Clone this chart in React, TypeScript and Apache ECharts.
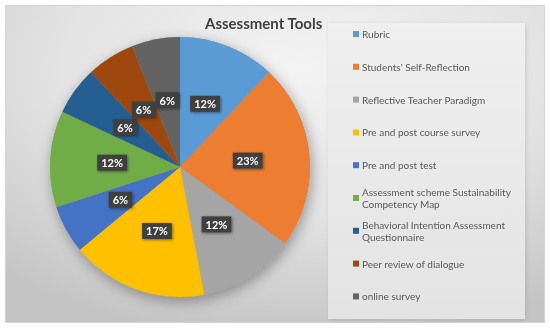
import React, { useEffect, useRef } from 'react';
import * as echarts from 'echarts';

const categories = [
  'Rubric',
  "Students' Self-Reflection",
  'Reflective Teacher Paradigm',
  'Pre and post course survey',
  'Pre and post test',
  'Assessment scheme Sustainability Competency Map',
  'Behavioral Intention Assessment Questionnaire',
  'Peer review of dialogue',
  'online survey',
];
const percentages = [12, 23, 12, 17, 6, 12, 6, 6, 6];
const colors = ['#5B9BD5', '#ED7D31', '#A5A5A5', '#FFC000', '#4472C4', '#70AD47', '#255E91', '#9E480E', '#636363'];
const titleText = 'Assessment Tools';

const LEGEND_LINE = 12.5;
const MAX_CHARS = 32;
const FONT = 'Lato, "Liberation Sans", sans-serif';

function wrap(name: string): string {
  const words = name.split(' ');
  const lines: string[] = [];
  let cur = '';
  for (const w of words) {
    const next = cur ? cur + ' ' + w : w;
    if (next.length > MAX_CHARS && cur) {
      lines.push(cur);
      cur = w;
    } else {
      cur = next;
    }
  }
  if (cur) lines.push(cur);
  return lines.join('\n');
}

export default function App() {
  const ref = useRef<HTMLDivElement>(null);
  useEffect(() => {
    if (!ref.current) return;
    const chart = echarts.init(ref.current, undefined, { renderer: 'svg' });
    const legends = categories.map((name, i) => {
      const y = 34 + 32.8 * i;
      const nLines = wrap(name).split('\n').length;
      const extra = (nLines - 1) * LEGEND_LINE;
      return {
        data: [name],
        orient: 'vertical',
        left: 353,
        top: y - LEGEND_LINE / 2 - extra,
        padding: 0,
        icon: 'rect',
        itemWidth: 6,
        itemHeight: 6,
        itemGap: 0,
        selectedMode: false,
        formatter: (n: string) => wrap(n),
        textStyle: {
          fontFamily: FONT,
          fontSize: 10,
          color: '#595959',
          lineHeight: LEGEND_LINE,
          padding: [extra, 0, 0, -2],
        },
      };
    });
    chart.setOption({
      animation: false,
      title: {
        text: titleText,
        left: 205,
        top: 15,
        padding: 0,
        textStyle: { fontFamily: FONT, fontSize: 15, fontWeight: 'bold', color: '#404040' },
      },
      graphic: [
        {
          type: 'rect',
          z: -10,
          silent: true,
          shape: { x: 5.5, y: 5.5, width: 539, height: 317 },
          style: {
            fill: new echarts.graphic.RadialGradient(0.55, 0.2, 0.85, [
              { offset: 0, color: '#f3f3f3' },
              { offset: 0.55, color: '#e2e2e2' },
              { offset: 1, color: '#c4c4c4' },
            ]),
            stroke: '#d4d4d4',
            lineWidth: 1,
          },
        },
        {
          type: 'rect',
          z: -9,
          silent: true,
          shape: { x: 328, y: 23, width: 197, height: 296 },
          style: {
            fill: new echarts.graphic.LinearGradient(0, 0, 0, 1, [
              { offset: 0, color: '#efefef' },
              { offset: 1, color: '#e3e3e3' },
            ]),
            shadowBlur: 4,
            shadowColor: 'rgba(0,0,0,0.12)',
            shadowOffsetX: 1,
            shadowOffsetY: 1,
          },
        },
      ],
      legend: legends,
      series: [
        {
          type: 'pie',
          silent: true,
          center: [180, 167],
          radius: 130,
          z: 1,
          label: { show: false },
          labelLine: { show: false },
          itemStyle: {
            color: '#999',
            shadowBlur: 14,
            shadowColor: 'rgba(0,0,0,0.35)',
            shadowOffsetX: 2,
            shadowOffsetY: 4,
          },
          data: [{ value: 1, name: '' }],
        },
        {
          type: 'pie',
          center: [180, 167],
          radius: 130,
          startAngle: 90,
          clockwise: true,
          z: 2,
          avoidLabelOverlap: false,
          labelLine: { show: false },
          label: {
            show: true,
            position: 'inside',
            formatter: (p: any) => `${p.value}%`,
            fontFamily: FONT,
            fontSize: 11,
            fontWeight: 'bold',
            color: '#ffffff',
            backgroundColor: '#404040',
            padding: [3, 4, 2, 4],
            shadowBlur: 3,
            shadowColor: 'rgba(0,0,0,0.45)',
            shadowOffsetX: 1,
            shadowOffsetY: 1,
          },
          data: categories.map((name, i) => ({
            name,
            value: percentages[i],
            itemStyle: { color: colors[i] },
          })),
        },
      ],
    });
    return () => chart.dispose();
  }, []);
  return <div ref={ref} style={{ position: 'fixed', left: 0, top: 0, width: 550, height: 330 }} />;
}
